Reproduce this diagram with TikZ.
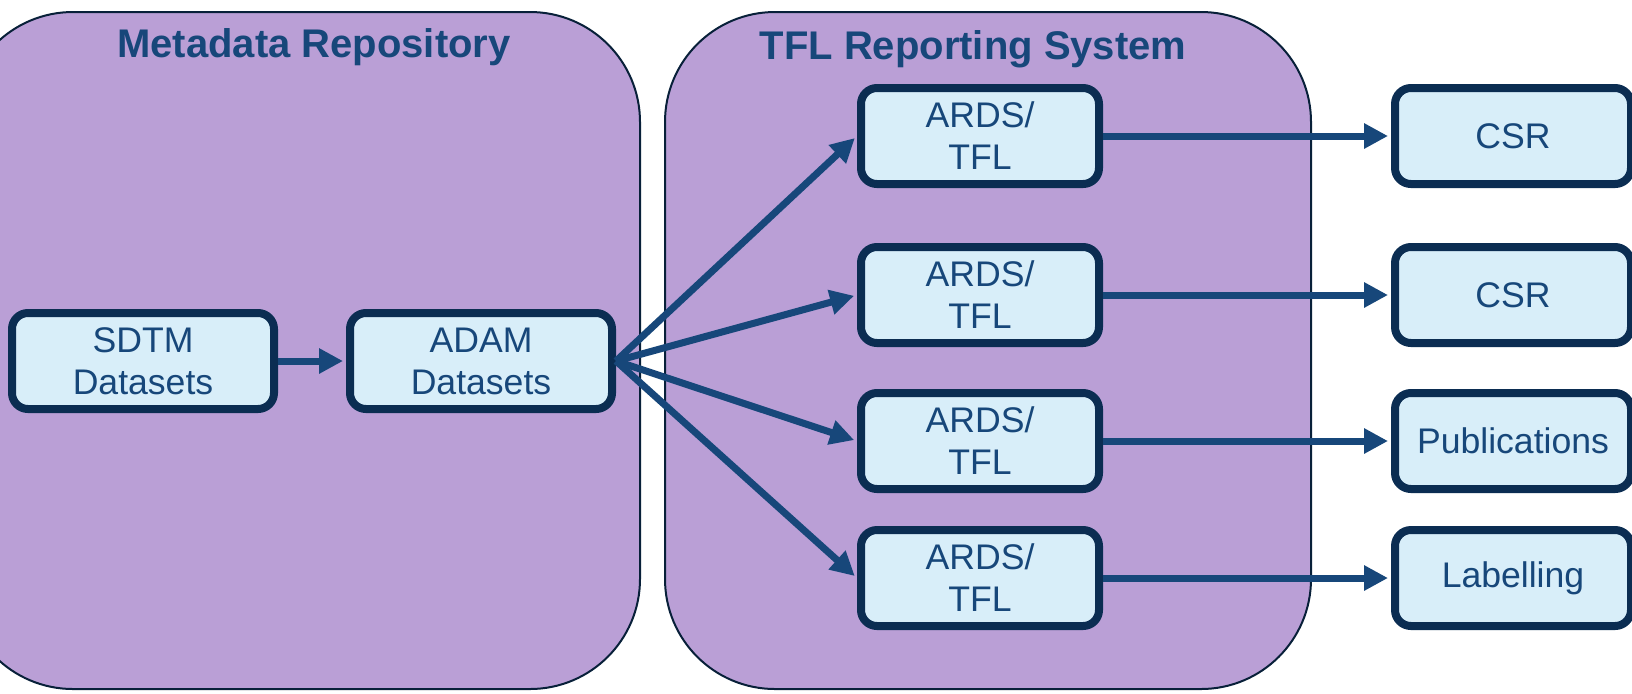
\documentclass[tikz,border=0pt]{standalone}
\usepackage{fontspec}
\setmainfont{Liberation Sans}
\usepackage{tikz}
\usetikzlibrary{arrows.meta,positioning}
\definecolor{lilac}{HTML}{BA9FD6}
\definecolor{navy}{HTML}{0B2D52}
\definecolor{inkb}{HTML}{17477A}
\definecolor{paleb}{HTML}{D8EEF9}
\tikzset{
  ar/.style={-{Triangle[length=12pt,width=12pt]},line width=3.5pt,inkb,shorten >=1.5pt},
  box/.style={draw=navy,line width=4pt,rounded corners=8pt,fill=paleb,align=center,text=inkb,
    font=\fontsize{17.8}{21}\selectfont,minimum height=48pt,inner sep=2pt},
  area/.style={draw=navy!70!black,line width=1pt,fill=lilac,rounded corners=55pt},
  head/.style={text=inkb,font=\fontsize{20}{24}\selectfont\bfseries}
}

\begin{document}
\begin{tikzpicture}[x=0.5pt,y=-0.5pt]
\clip (0,0) rectangle (1632,693);
\draw[area] (-37,12) rectangle (640,689);
\draw[area] (665,12) rectangle (1311,689);
\node[head] (mdr) at (314,47) {Metadata Repository};
\node[head] (tfl) at (973,49) {TFL Reporting System};
\node[box,minimum width=131pt] (sdtm) at (143,361) {SDTM\\Datasets};
\node[box,minimum width=131pt] (adam) at (481,361) {ADAM\\Datasets};
\draw[ar] (sdtm) -- (adam);
% report rows
\foreach \i/\y/\t in {1/136/CSR,2/295/CSR,3/441/Publications,4/578/Labelling}{
  \node[box,minimum width=119pt] (ards\i) at (980,\y) {ARDS/\\TFL};
  \node[box,minimum width=118pt] (out\i) at (1513,\y) {\t};
  \draw[ar] (adam.east) -- (ards\i.west);
  \draw[ar] (ards\i.east) -- (out\i.west);
}
\end{tikzpicture}
\end{document}
